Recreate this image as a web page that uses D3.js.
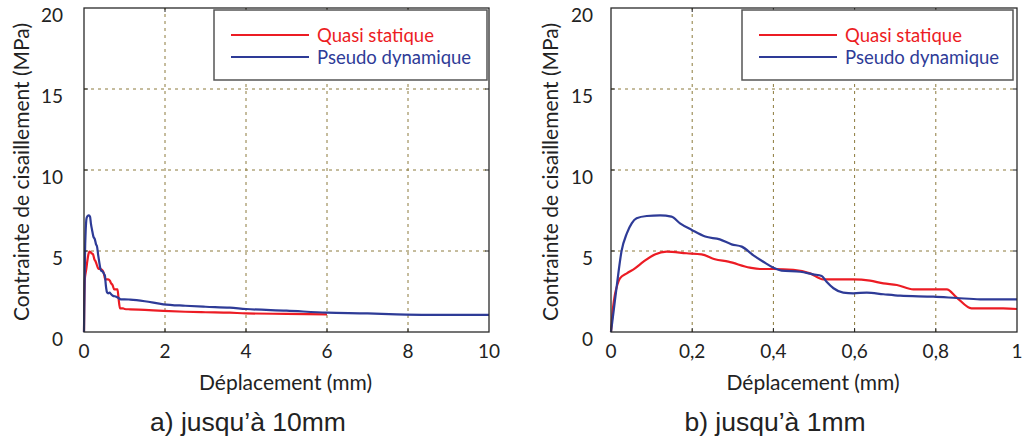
<!DOCTYPE html>
<html><head><meta charset="utf-8">
<script src="https://cdn.jsdelivr.net/npm/d3@7"></script>
<style>body{margin:0;background:#fff}svg{display:block}</style>
</head><body>
<svg id="c" width="1024" height="443"></svg>
<script>
// ---- data ----
const seriesNames = ["Quasi statique", "Pseudo dynamique"];
// first millimetre (panel b), displacement in mm, stress in MPa
const quasiX = [0,0.005,0.01,0.016,0.022,0.039,0.059,0.08,0.108,0.137,0.186,0.223,0.256,0.289,0.342,0.367,0.4,0.449,0.49,0.523,0.597,0.638,0.671,0.704,0.745,0.827,0.851,0.888,0.966,1.0];
const quasiY = [0,1.5,2.35,2.95,3.31,3.62,3.93,4.34,4.79,4.96,4.86,4.79,4.49,4.34,3.97,3.89,3.89,3.83,3.62,3.25,3.25,3.17,3.0,2.9,2.63,2.63,2.14,1.46,1.46,1.42];
const pseudoX = [0,0.007,0.014,0.026,0.039,0.051,0.063,0.088,0.121,0.149,0.17,0.199,0.232,0.268,0.297,0.322,0.35,0.375,0.4,0.42,0.466,0.498,0.519,0.531,0.548,0.572,0.597,0.63,0.671,0.712,0.794,0.851,0.909,1.0];
const pseudoY = [0,1.4,2.8,5.0,6.09,6.71,7.02,7.16,7.2,7.12,6.71,6.3,5.89,5.72,5.41,5.27,4.75,4.34,3.97,3.79,3.72,3.56,3.46,3.1,2.7,2.43,2.39,2.43,2.33,2.24,2.18,2.1,2.02,2.02];
// beyond 1 mm (panel a only)
const quasiTailX = [1.14,1.5,1.96,2.5,3.0,3.6,4.0,5.0,6.0];
const quasiTailY = [1.4,1.36,1.3,1.25,1.22,1.19,1.15,1.12,1.09];
const pseudoTailX = [1.14,1.5,1.96,2.5,3.0,3.6,4.0,5.0,6.0,7.0,7.72,8.5,10];
const pseudoTailY = [2.0,1.9,1.71,1.62,1.56,1.5,1.42,1.32,1.19,1.15,1.09,1.06,1.06];
const yTicks = [0,5,10,15,20];
const xTicksA = [0,2,4,6,8,10];
const xTicksB = [0,0.2,0.4,0.6,0.8,1];
const xTickLabelsB = ["0","0,2","0,4","0,6","0,8","1"];
const captions = ["a) jusqu\u2019à 10mm", "b) jusqu\u2019à 1mm"];
const yTitle = "Contrainte de cisaillement (MPa)";
const xTitle = "Déplacement (mm)";

const colors = ["#ec1c24", "#2e3b97"];
const zip = (xs, ys) => xs.map((x, i) => [x, ys[i]]);

const svg = d3.select("#c");
const font = "Lato, 'Open Sans', sans-serif";

function panel(opt) {
  const x = d3.scaleLinear().domain(opt.xDomain).range([opt.left, opt.right]);
  const y = d3.scaleLinear().domain([0, 20]).range([332, 8]);
  const g = svg.append("g");
  // grid
  g.selectAll(".gx").data(opt.xTicks.slice(1, -1)).join("line")
    .attr("x1", d => x(d)).attr("x2", d => x(d)).attr("y1", y(0)).attr("y2", y(20))
    .attr("stroke", "#8c7a3c").attr("stroke-width", 1).attr("stroke-dasharray", "3,4");
  g.selectAll(".gy").data(yTicks.slice(1, -1)).join("line")
    .attr("y1", d => y(d)).attr("y2", d => y(d)).attr("x1", x.range()[0]).attr("x2", x.range()[1])
    .attr("stroke", "#8c7a3c").attr("stroke-width", 1).attr("stroke-dasharray", "3,4");
  // lines
  const line = d3.line().curve(d3.curveMonotoneX).x(d => x(d[0])).y(d => y(d[1]));
  opt.series.forEach((s, i) => {
    g.append("path").datum(s).attr("d", line).attr("fill", "none")
      .attr("stroke", colors[i]).attr("stroke-width", 2.2).attr("stroke-linejoin", "round");
  });
  // frame
  g.append("rect").attr("x", x.range()[0]).attr("y", y(20))
    .attr("width", x.range()[1] - x.range()[0]).attr("height", y(0) - y(20))
    .attr("fill", "none").attr("stroke", "#2a2a2a").attr("stroke-width", 1.3);
  // inward ticks
  const tk = 4;
  opt.xTicks.slice(1, -1).forEach(t => {
    g.append("line").attr("x1", x(t)).attr("x2", x(t)).attr("y1", y(0)).attr("y2", y(0) - tk).attr("stroke", "#222");
    g.append("line").attr("x1", x(t)).attr("x2", x(t)).attr("y1", y(20)).attr("y2", y(20) + tk).attr("stroke", "#222");
  });
  yTicks.slice(1, -1).forEach(t => {
    g.append("line").attr("y1", y(t)).attr("y2", y(t)).attr("x1", x.range()[0]).attr("x2", x.range()[0] + tk).attr("stroke", "#222");
    g.append("line").attr("y1", y(t)).attr("y2", y(t)).attr("x1", x.range()[1]).attr("x2", x.range()[1] - tk).attr("stroke", "#222");
  });
  // tick labels
  g.selectAll(".yl").data(yTicks).join("text")
    .attr("x", x.range()[0] - opt.yLabGap).attr("y", d => y(d) + 14)
    .attr("text-anchor", "end").attr("font-family", font).attr("font-size", 19).attr("fill", "#222")
    .text(d => d);
  g.selectAll(".xl").data(opt.xTicks).join("text")
    .attr("x", d => x(d)).attr("y", 358)
    .attr("text-anchor", "middle").attr("font-family", font).attr("font-size", 19).attr("fill", "#222")
    .text((d, i) => opt.xLabels[i]);
  // titles
  g.append("text").attr("x", (x.range()[0] + x.range()[1]) / 2 - 1).attr("y", 390)
    .attr("text-anchor", "middle").attr("font-family", font).attr("font-size", 21).attr("fill", "#222")
    .text(xTitle);
  g.append("text").attr("transform", `translate(${opt.yTitleX},172) rotate(-90)`)
    .attr("text-anchor", "middle").attr("font-family", font).attr("font-size", 21).attr("fill", "#222")
    .attr("dy", "0.35em").text(yTitle);
  g.append("text").attr("x", opt.capX).attr("y", 431)
    .attr("text-anchor", "middle").attr("font-family", "'Liberation Sans', Arial, sans-serif").attr("font-size", 26.5).attr("fill", "#222")
    .text(opt.caption);
  // legend
  const lg = g.append("g");
  lg.append("rect").attr("x", opt.legX).attr("y", 10).attr("width", opt.legW).attr("height", 70)
    .attr("fill", "#fff").attr("stroke", "#555").attr("stroke-width", 1.5);
  seriesNames.forEach((n, i) => {
    const ly = 35 + i * 22;
    lg.append("line").attr("x1", opt.legX + 17).attr("x2", opt.legX + 95).attr("y1", ly).attr("y2", ly)
      .attr("stroke", colors[i]).attr("stroke-width", 2.2);
    lg.append("text").attr("x", opt.legX + 103).attr("y", ly + 7)
      .attr("font-family", font).attr("font-size", 18.5).attr("fill", colors[i]).text(n);
  });
}

panel({
  xDomain: [0, 10], left: 84, right: 489, xTicks: xTicksA, xLabels: xTicksA.map(String),
  series: [zip(quasiX.concat(quasiTailX), quasiY.concat(quasiTailY)), zip(pseudoX.concat(pseudoTailX), pseudoY.concat(pseudoTailY))],
  yLabGap: 21, yTitleX: 22, capX: 248, caption: captions[0], legX: 214, legW: 273
});
panel({
  xDomain: [0, 1], left: 611, right: 1017, xTicks: xTicksB, xLabels: xTickLabelsB,
  series: [zip(quasiX, quasiY), zip(pseudoX, pseudoY)],
  yLabGap: 18, yTitleX: 551, capX: 775, caption: captions[1], legX: 742, legW: 271
});
</script>
</body></html>
